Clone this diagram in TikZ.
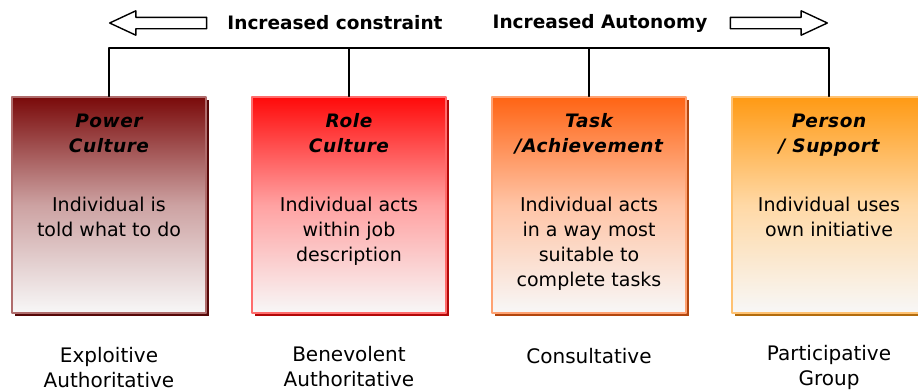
\documentclass[tikz,border=0pt]{standalone}
\usepackage{fontspec}
\setmainfont{DejaVu Sans}
\newfontfamily\titlefont[LetterSpace=3]{DejaVu Sans}
\usetikzlibrary{shapes.arrows,shadows}

\definecolor{powertop}{HTML}{7A0A0A}
\definecolor{roletop}{HTML}{FF0A0A}
\definecolor{tasktop}{HTML}{FF6414}
\definecolor{persontop}{HTML}{FF9A14}

\tikzset{
  culture/.style={rectangle, minimum width=194pt, minimum height=216pt,
    top color=#1, bottom color=white!97!black, middle color=#1!38!white, draw=#1!60, line width=1.2pt,
    drop shadow={shadow xshift=3pt, shadow yshift=-3pt, fill=#1!70!black, opacity=1}},
  culturetitle/.style={anchor=north, align=center, font=\titlefont\bfseries\itshape\fontsize{18.5}{25}\selectfont},
  culturebody/.style={anchor=north, align=center, font=\fontsize{19}{25}\selectfont},
  mgmt/.style={align=center, font=\fontsize{20}{25}\selectfont},
  blockarrow/.style={single arrow, draw, fill=white, line width=1.4pt, minimum height=97pt,
    inner xsep=0pt, inner ysep=5pt, single arrow head extend=6.5pt, single arrow tip angle=50},
  heading/.style={font=\bfseries\fontsize{18.5}{20}\selectfont},
}

\begin{document}
\begin{tikzpicture}[x=1pt,y=-1pt,line cap=round,line join=round]
  \useasboundingbox (0,0) rectangle (918,391);
  \clip (0,0) rectangle (918,391);

  % headings and block arrows
  \node[blockarrow, shape border rotate=180, anchor=tip] (left) at (108,23) {};
  \node[blockarrow, anchor=tip] (right) at (829,23) {};
  \node[heading] (constraint) at (335,23) {Increased constraint};
  \node[heading] (autonomy) at (600,23) {Increased Autonomy};

  % the four cultures
  \node[culture=powertop] (power) at (109,205) {};
  \node[culture=roletop] (role) at (349,205) {};
  \node[culture=tasktop] (task) at (589,205) {};
  \node[culture=persontop] (person) at (829,205) {};

  \node[culturetitle] (powert) at (109,110) {Power\\Culture};
  \node[culturetitle] (rolet) at (349,110) {Role\\Culture};
  \node[culturetitle] (taskt) at (589,110) {Task\\/Achievement};
  \node[culturetitle] (persont) at (829,110) {Person\\/ Support};

  \node[culturebody] (powerb) at (109,194) {Individual is\\told what to do};
  \node[culturebody] (roleb) at (349,194) {Individual acts\\within job\\description};
  \node[culturebody] (taskb) at (589,194) {Individual acts\\in a way most\\suitable to\\complete tasks};
  \node[culturebody] (personb) at (829,194) {Individual uses\\own initiative};

  % connecting lines
  \coordinate (bus) at (469,48);
  \draw[line width=1.2pt] (power.north) |- (bus) -| (person.north);
  \draw[line width=1.2pt] (role.north) -- (role.north |- bus);
  \draw[line width=1.2pt] (task.north) -- (task.north |- bus);

  % management styles
  \node[mgmt] (exploit) at (109,368) {Exploitive\\Authoritative};
  \node[mgmt] (benev) at (349,367) {Benevolent\\Authoritative};
  \node[mgmt] (consult) at (589,356) {Consultative};
  \node[mgmt] (partic) at (829,367) {Participative\\Group};
\end{tikzpicture}
\end{document}
